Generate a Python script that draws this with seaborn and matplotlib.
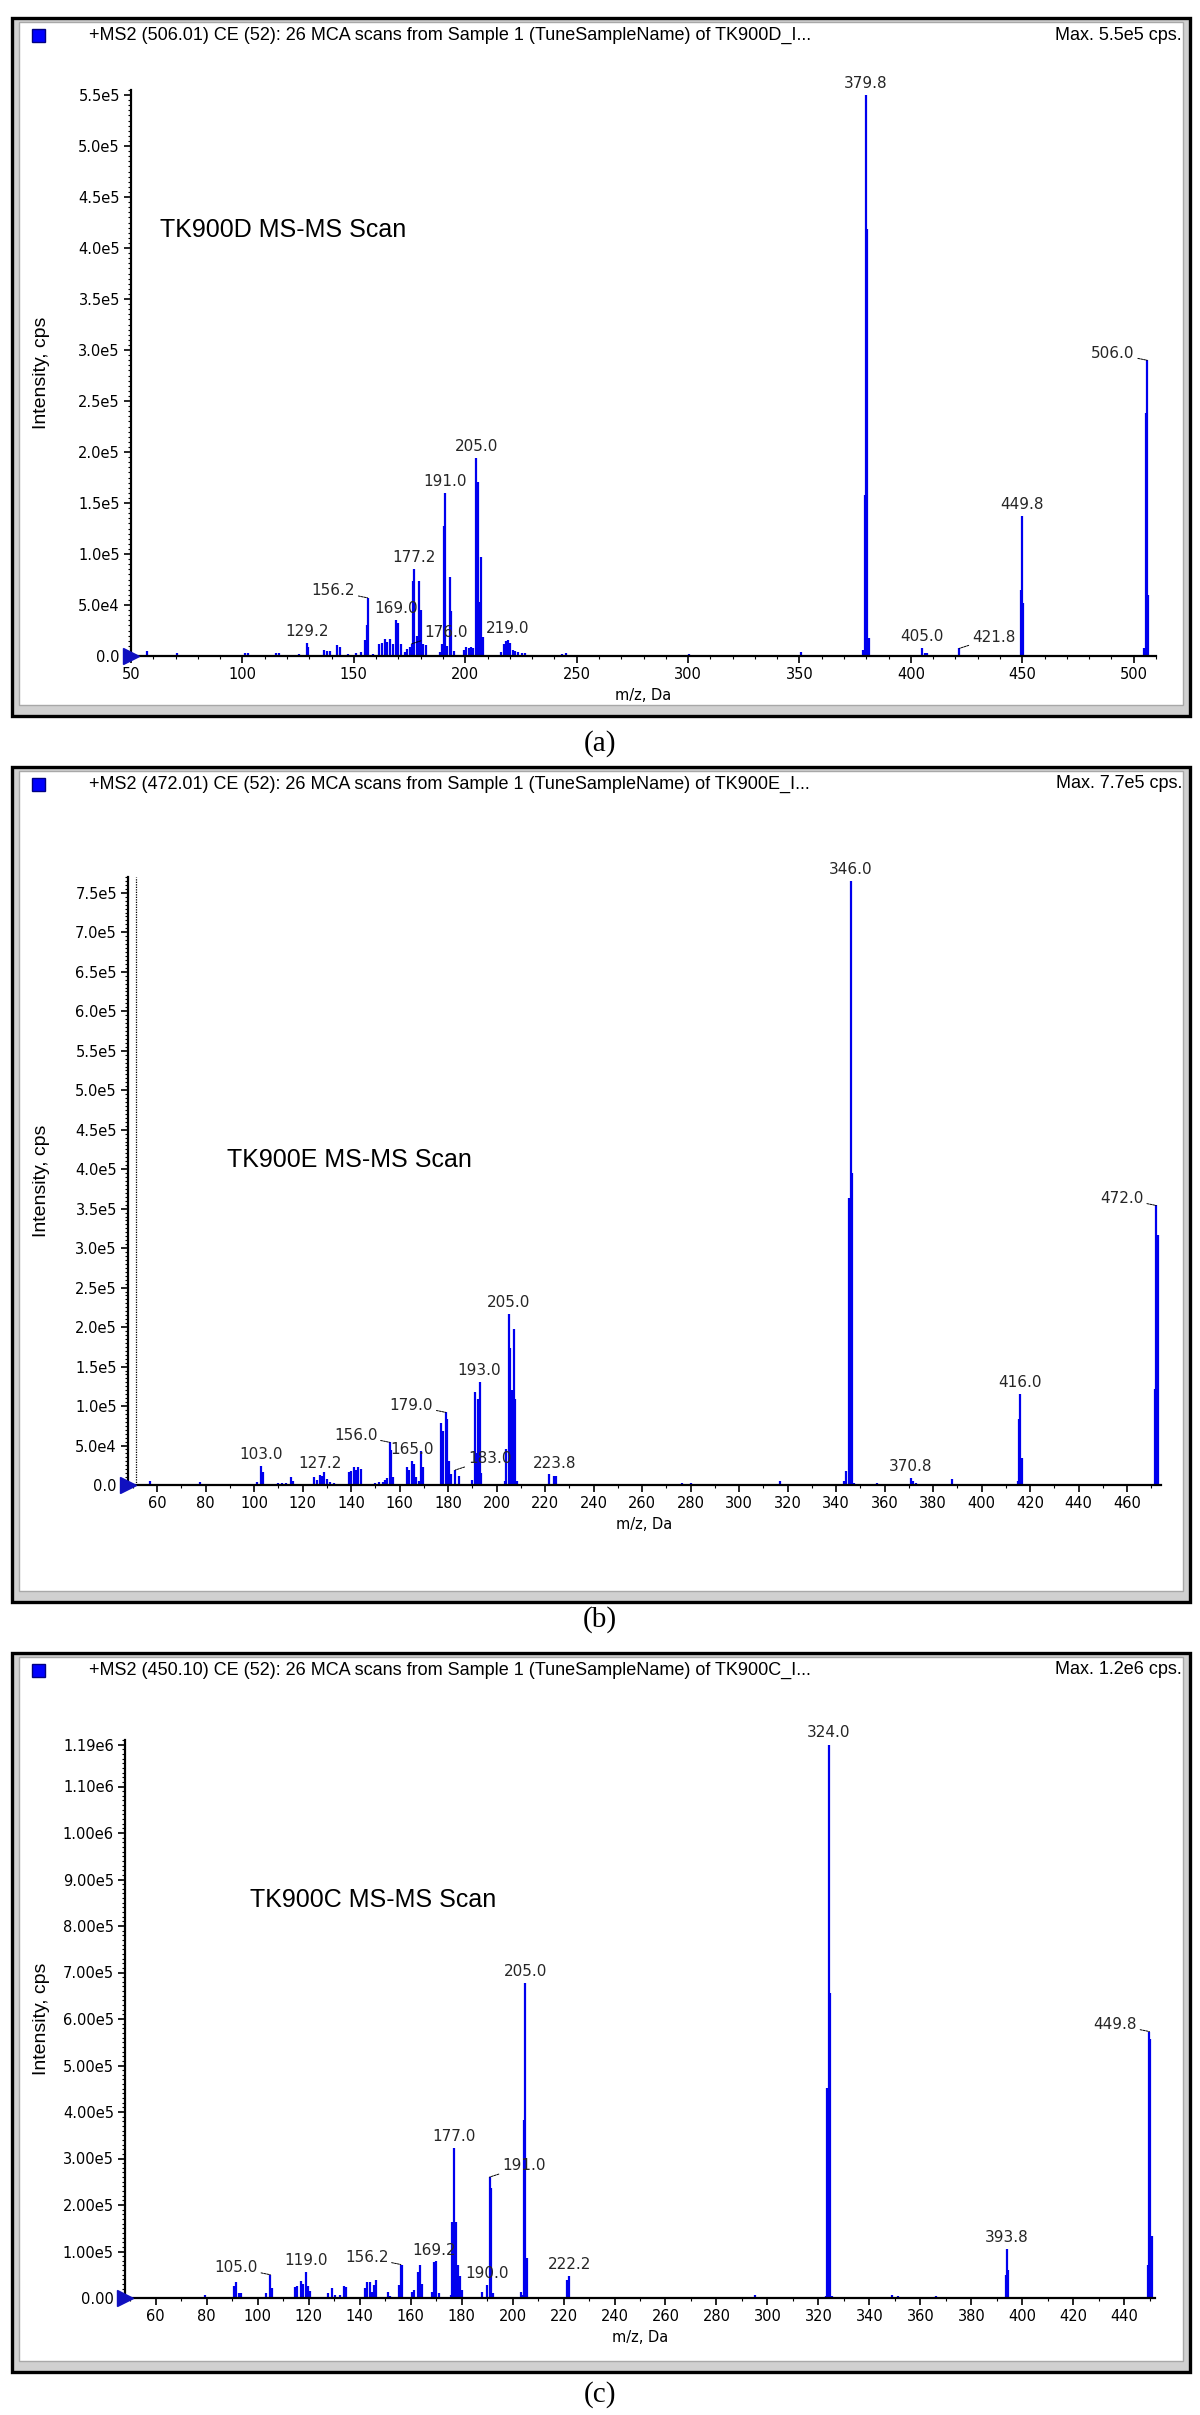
"""MS-MS spectra of TK900D / TK900E / TK900C"""

import numpy as np
import pandas as pd
import matplotlib
matplotlib.use("Agg")
import matplotlib.pyplot as plt
from matplotlib.patches import Rectangle
from matplotlib.ticker import FixedLocator, MultipleLocator, FuncFormatter
import seaborn as sns

sns.set_theme(style="white")
plt.rcParams['font.family'] = ['DejaVu Sans']

W, H = 1200, 2415

# (a) TK900D
a_mz = [57.2, 70.5, 101.2, 102.3, 115.2, 116.6, 125.3, 128.8, 129.6, 136.5, 138.0, 139.5,
        142.4, 143.6, 147.5, 151.0, 153.0, 155.1, 155.7, 156.2, 158.5, 161.2, 162.8, 163.9,
        165.0, 166.2, 167.4, 169.0, 170.0, 171.0, 173.0, 174.0, 175.0, 176.0, 176.6, 177.2,
        178.2, 179.2, 180.0, 181.0, 182.4, 188.5, 189.6, 190.5, 191.0, 192.0, 193.1, 193.8,
        195.0, 199.5, 200.5, 201.5, 202.5, 203.5, 205.0, 205.6, 206.3, 207.0, 207.8, 216.0,
        217.2, 218.2, 219.0, 220.0, 221.5, 222.5, 223.5, 225.5, 227.0, 243.5, 245.0, 300.5,
        350.5, 378.4, 379.2, 379.8, 380.4, 381.2, 405.0, 406.2, 407.2, 421.8, 449.3, 449.8,
        450.3, 504.8, 505.5, 506.0, 506.6]
a_int = [4.5e3, 3e3, 3e3, 3e3, 2.5e3, 2.5e3, 1.5e3, 1.3e4, 9e3, 6e3, 5e3, 5e3,
         1.1e4, 9e3, 2e3, 2.5e3, 4e3, 1.6e4, 3.0e4, 5.7e4, 2e3, 1.2e4, 1.3e4, 1.7e4,
         1.4e4, 1.7e4, 1.2e4, 3.5e4, 3.2e4, 1.2e4, 4e3, 7e3, 9e3, 1.2e4, 7.4e4, 8.5e4,
         2.0e4, 7.4e4, 4.5e4, 1.2e4, 1.1e4, 4e3, 1.2e4, 1.27e5, 1.6e5, 1.0e4, 7.7e4, 4.4e4,
         5e3, 6e3, 9e3, 8e3, 9e3, 8e3, 1.94e5, 1.71e5, 5.3e4, 9.7e4, 1.9e4, 4e3,
         1.2e4, 1.45e4, 1.6e4, 1.3e4, 6e3, 5e3, 4e3, 3e3, 2.5e3, 2e3, 3e3, 2e3,
         3.5e3, 6e3, 1.58e5, 5.5e5, 4.19e5, 1.8e4, 7.5e3, 3e3, 3e3, 7.5e3, 6.5e4, 1.37e5,
         5.2e4, 8e3, 2.38e5, 2.9e5, 6e4]
a_lab_mz = [129.2, 156.2, 169.0, 176.0, 177.2, 191.0, 205.0, 219.0, 379.8, 405.0, 421.8, 449.8, 506.0]
a_lab_style = ['c', 'l', 'c', 'r', 'c', 'c', 'c', 'c', 'c', 'c', 'r', 'c', 'l']
a_yticks = [0, 5e4, 1e5, 1.5e5, 2e5, 2.5e5, 3e5, 3.5e5, 4e5, 4.5e5, 5e5, 5.5e5]
a_xticks = [50, 100, 150, 200, 250, 300, 350, 400, 450, 500]

# (b) TK900E
b_mz = [57.2, 77.5, 101.0, 103.0, 103.6, 110.0, 111.5, 113.0, 115.2, 116.2, 124.8, 126.0,
        127.2, 128.0, 129.0, 130.0, 131.5, 133.0, 139.0, 140.0, 141.2, 142.0, 143.0, 144.0,
        150.0, 151.5, 153.0, 154.0, 155.0, 156.0, 156.6, 157.2, 163.0, 164.0, 165.0, 165.8,
        166.6, 168.0, 169.0, 169.8, 177.0, 178.0, 179.0, 179.6, 180.4, 181.4, 183.0, 184.6,
        190.0, 191.0, 191.6, 192.4, 193.0, 193.6, 203.4, 204.0, 205.0, 205.6, 206.2, 207.0,
        207.8, 208.6, 221.6, 223.8, 224.4, 276.5, 280.0, 317.0, 343.2, 344.2, 345.4, 346.0,
        346.6, 347.2, 357.0, 370.8, 371.8, 373.0, 388.0, 415.0, 415.6, 416.0, 416.8, 471.4,
        472.0, 472.6]
b_int = [5.5e3, 3.5e3, 4e3, 2.4e4, 1.6e4, 2.5e3, 3e3, 3e3, 1e4, 5e3, 1.0e4, 6e3,
         1.3e4, 1.2e4, 1.6e4, 7e3, 4e3, 3e3, 1.6e4, 1.8e4, 2.3e4, 1.9e4, 2.3e4, 2.0e4,
         3e3, 4e3, 4e3, 6e3, 8.6e3, 5.4e4, 4.4e4, 1e4, 2.3e4, 1.9e4, 3.0e4, 2.6e4,
         1.0e4, 5e3, 4.3e4, 2.3e4, 7.9e4, 6.8e4, 9.2e4, 8.4e4, 3.0e4, 1.4e4, 1.9e4, 1.2e4,
         6e3, 1.18e5, 4.0e4, 1.09e5, 1.3e5, 1.5e4, 5e3, 4.5e4, 2.16e5, 1.74e5, 1.2e5, 1.98e5,
         1.09e5, 5e3, 1.4e4, 1.2e4, 1.1e4, 3e3, 3e3, 5e3, 5e3, 1.8e4, 3.64e5, 7.65e5,
         3.95e5, 3e3, 3e3, 8.5e3, 5e3, 3e3, 7e3, 5e3, 8.4e4, 1.15e5, 3.4e4, 1.22e5,
         3.54e5, 3.17e5]
b_lab_mz = [103.0, 127.2, 156.0, 165.0, 179.0, 183.0, 193.0, 205.0, 223.8, 346.0, 370.8, 416.0, 472.0]
b_lab_style = ['c', 'c', 'l', 'c', 'l', 'r', 'c', 'c', 'c', 'c', 'c', 'c', 'l']
b_yticks = [0, 5e4, 1e5, 1.5e5, 2e5, 2.5e5, 3e5, 3.5e5, 4e5, 4.5e5, 5e5, 5.5e5, 6e5, 6.5e5, 7e5, 7.5e5]
b_xticks = list(range(60, 461, 20))

# (c) TK900C
c_mz = [56.8, 71.4, 77.0, 79.4, 90.6, 91.4, 92.6, 93.6, 103.2, 105.0, 105.8, 114.8,
        115.6, 117.0, 118.0, 119.0, 119.8, 120.6, 127.6, 129.0, 130.5, 132.5, 134.0, 134.8,
        142.0, 143.0, 144.0, 145.0, 145.8, 146.6, 151.2, 152.0, 155.4, 156.2, 156.8, 160.6,
        161.4, 162.8, 163.6, 164.4, 168.6, 169.2, 169.8, 171.0, 176.0, 176.4, 177.0, 177.8,
        178.6, 179.4, 180.2, 188.0, 190.0, 191.0, 191.6, 192.4, 203.2, 204.0, 204.5, 205.0,
        205.8, 221.5, 222.2, 229.4, 254.2, 295.2, 323.0, 323.5, 324.0, 324.6, 325.2, 349.0,
        351.0, 366.0, 393.4, 393.8, 394.4, 449.2, 449.8, 450.2, 450.8]
c_int = [3e3, 3e3, 3e3, 6.7e3, 2.6e4, 3.5e4, 1.0e4, 1.1e4, 1.0e4, 5.0e4, 2.1e4, 2.4e4,
         2.5e4, 3.6e4, 3.0e4, 5.5e4, 2.5e4, 1.5e4, 1.0e4, 2.2e4, 7e3, 7e3, 2.5e4, 2.4e4,
         2.2e4, 3.5e4, 3.5e4, 1.3e4, 2.8e4, 3.8e4, 1.35e4, 5e3, 2.7e4, 7.2e4, 7.2e4, 1.3e4,
         1.7e4, 5.6e4, 7.2e4, 3.0e4, 1.3e4, 7.7e4, 7.9e4, 1e4, 7e3, 1.64e5, 3.23e5, 1.64e5,
         7.2e4, 4.7e4, 1.7e4, 1.3e4, 2.8e4, 2.6e5, 2.37e5, 1e4, 1.3e4, 7e3, 3.82e5, 6.77e5,
         8.5e4, 3.8e4, 4.7e4, 3e3, 3e3, 7e3, 4e3, 4.52e5, 1.19e6, 6.55e5, 4e3, 7e3,
         4e3, 4e3, 5e4, 1.06e5, 6e4, 7.2e4, 5.73e5, 5.57e5, 1.34e5]
c_lab_mz = [105.0, 119.0, 156.2, 169.2, 177.0, 190.0, 191.0, 205.0, 222.2, 324.0, 393.8, 449.8]
c_lab_style = ['l', 'c', 'l', 'c', 'c', 'c', 'r', 'c', 'c', 'c', 'c', 'l']
c_yticks = [0, 1e5, 2e5, 3e5, 4e5, 5e5, 6e5, 7e5, 8e5, 9e5, 1e6, 1.1e6, 1.19e6]
c_xticks = list(range(60, 441, 20))

headers = [
    "+MS2 (506.01) CE (52): 26 MCA scans from Sample 1 (TuneSampleName) of TK900D_I...",
    "+MS2 (472.01) CE (52): 26 MCA scans from Sample 1 (TuneSampleName) of TK900E_I...",
    "+MS2 (450.10) CE (52): 26 MCA scans from Sample 1 (TuneSampleName) of TK900C_I...",
]
max_texts = ["Max. 5.5e5 cps.", "Max. 7.7e5 cps.", "Max. 1.2e6 cps."]
names = ["TK900D MS-MS Scan", "TK900E MS-MS Scan", "TK900C MS-MS Scan"]
tags = ["(a)", "(b)", "(c)"]

BLUE = "#0000ee"
NARROW = ['Liberation Sans Narrow', 'Liberation Sans', 'DejaVu Sans']

fig = plt.figure(figsize=(W / 100, H / 100), dpi=100)


def fx(x):
    return x / W


def fy(y):
    return 1 - y / H


def sci_fmt(nd):
    def f(v, pos):
        if v == 0:
            return "0." + "0" * nd
        s = f"{v:.{nd}e}"
        m, e = s.split("e")
        return f"{m}e{int(e)}"
    return FuncFormatter(f)


def draw_panel(frame, box, mz, inten, lab_mz, lab_style, xlim, ylim, xticks, yticks,
               nd, yminor, header, maxtxt, name, name_xy, tag, tag_y, dotted=False):
    x0, y0, x1, y1 = frame
    fig.patches.append(Rectangle((fx(x0), fy(y1)), (x1 - x0) / W, (y1 - y0) / H,
                                 transform=fig.transFigure, facecolor="#d0d0d0",
                                 edgecolor="black", lw=2.4, zorder=-3))
    fig.patches.append(Rectangle((fx(x0 + 7), fy(y1 - 11)), (x1 - x0 - 14) / W, (y1 - y0 - 15) / H,
                                 transform=fig.transFigure, facecolor="white",
                                 edgecolor="#a8a8a8", lw=1, zorder=-2))
    # header
    fig.patches.append(Rectangle((fx(x0 + 20), fy(y0 + 24)), 13 / W, 13 / H,
                                 transform=fig.transFigure, facecolor="#0000ff",
                                 edgecolor="#000080", lw=1, zorder=-1))
    fig.text(fx(x0 + 77), fy(y0 + 17), header, family=NARROW, fontsize=13,
             ha="left", va="center", color="black")
    fig.text(fx(x1 - 8), fy(y0 + 17), maxtxt, family=NARROW, fontsize=13,
             ha="right", va="center", color="black")
    fig.text(fx(600), fy(tag_y), tag, family=['Liberation Serif', 'DejaVu Serif'],
             fontsize=21, ha="center", va="center", color="black")

    l, t, r, b = box
    ax = fig.add_axes([fx(l), fy(b), (r - l) / W, (b - t) / H])
    ax.set_facecolor("white")
    df = pd.DataFrame({"mz": mz, "intensity": inten})
    ax.vlines(df["mz"], 0, df["intensity"], color=BLUE, lw=1.6)
    ax.plot([xlim[0]], [0], marker=">", ms=11, color="#1010c0", clip_on=False, zorder=5)
    if dotted:
        ax.axvline(xlim[0] + 3.4, color="black", lw=0.9, ls=(0, (1, 1)))

    for m, st in zip(lab_mz, lab_style):
        i = int(np.argmin(np.abs(df["mz"].to_numpy() - m)))
        h = df["intensity"].iloc[i]
        xm = df["mz"].iloc[i]
        txt = f"{m:.1f}"
        if st == "c":
            ax.annotate(txt, (xm, h), xytext=(0, 3), textcoords="offset points",
                        ha="center", va="bottom", fontsize=11)
        elif st == "l":
            ax.annotate(txt, (xm, h), xytext=(-9, 5), textcoords="offset points",
                        ha="right", va="center", fontsize=11,
                        arrowprops=dict(arrowstyle="-", lw=0.7, ls=(0, (2, 1)), color="black",
                                        shrinkA=0, shrinkB=0))
        else:
            ax.annotate(txt, (xm, h), xytext=(9, 8), textcoords="offset points",
                        ha="left", va="center", fontsize=11,
                        arrowprops=dict(arrowstyle="-", lw=0.7, ls=(0, (2, 1)), color="black",
                                        shrinkA=0, shrinkB=0))

    ax.set_xlim(*xlim)
    ax.set_ylim(*ylim)
    ax.xaxis.set_major_locator(FixedLocator(xticks))
    ax.xaxis.set_minor_locator(MultipleLocator(10))
    ax.yaxis.set_major_locator(FixedLocator(yticks))
    ax.yaxis.set_minor_locator(MultipleLocator(yminor))
    ax.yaxis.set_major_formatter(sci_fmt(nd))
    ax.tick_params(axis="both", which="major", direction="out", length=5, width=1.2,
                   labelsize=10.5, color="black", labelcolor="black", pad=3)
    ax.tick_params(axis="both", which="minor", direction="out", length=2.5, width=0.8,
                   color="black")
    ax.tick_params(bottom=True, left=True, which="both")
    for s in ["top", "right"]:
        ax.spines[s].set_visible(False)
    for s in ["left", "bottom"]:
        ax.spines[s].set_color("black")
        ax.spines[s].set_linewidth(1.6)
    ax.grid(False)

    ax.set_ylabel("Intensity, cps", family=NARROW, fontsize=14, color="black")
    ax.yaxis.set_label_coords((50 - l) / (r - l), 0.5)
    ax.set_xlabel("m/z, Da", fontsize=10.5, color="black")
    ax.xaxis.set_label_coords(0.5, -(688 - 656) / (b - t))
    ax.text(fx(name_xy[0]), fy(name_xy[1]), name, transform=fig.transFigure,
            family=['Liberation Sans', 'DejaVu Sans'], fontsize=18, ha="left", va="center",
            color="black")
    return ax


draw_panel((12, 18, 1190, 716), (131, 90, 1156, 656), a_mz, a_int, a_lab_mz, a_lab_style,
           (50, 510), (0, 5.55e5), a_xticks, a_yticks, 1, 5e3,
           headers[0], max_texts[0], names[0], (160, 230), tags[0], 744)
draw_panel((12, 767, 1190, 1602), (128, 877, 1161, 1485), b_mz, b_int, b_lab_mz, b_lab_style,
           (48, 474), (0, 7.7e5), b_xticks, b_yticks, 1, 5e3,
           headers[1], max_texts[1], names[1], (227, 1160), tags[1], 1620, dotted=True)
draw_panel((12, 1653, 1190, 2372), (125, 1740, 1155, 2298), c_mz, c_int, c_lab_mz, c_lab_style,
           (48, 452), (0, 1.2e6), c_xticks, c_yticks, 2, 1e4,
           headers[2], max_texts[2], names[2], (250, 1900), tags[2], 2395)

fig.savefig("out.png", dpi=100)
